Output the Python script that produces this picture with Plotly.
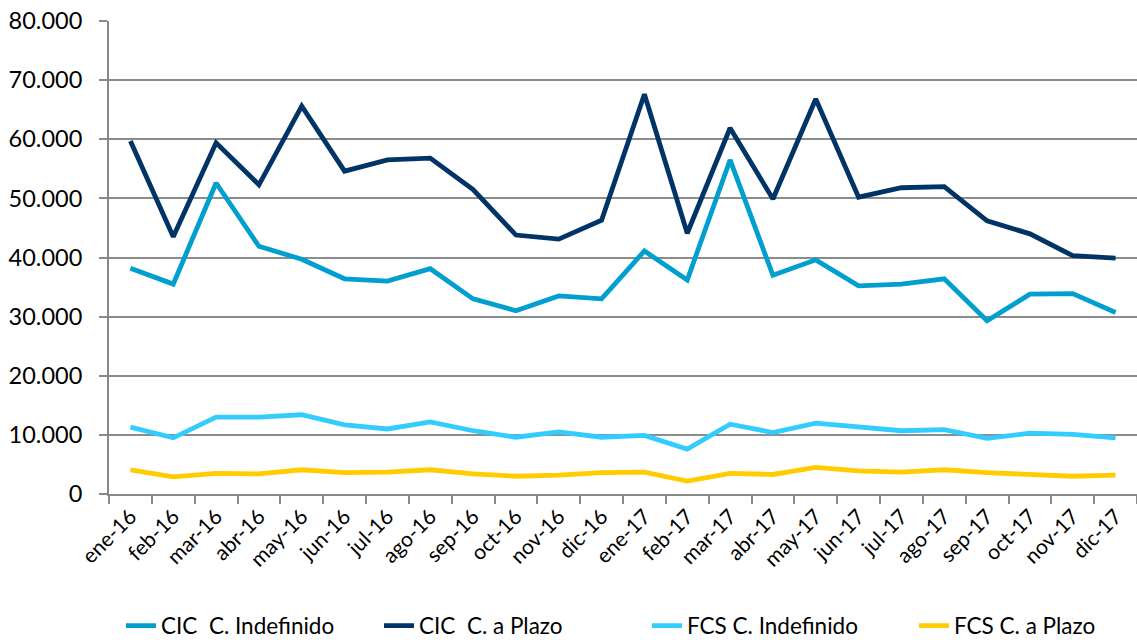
import plotly.graph_objects as go

months = ["ene-16", "feb-16", "mar-16", "abr-16", "may-16", "jun-16", "jul-16", "ago-16",
          "sep-16", "oct-16", "nov-16", "dic-16", "ene-17", "feb-17", "mar-17", "abr-17",
          "may-17", "jun-17", "jul-17", "ago-17", "sep-17", "oct-17", "nov-17", "dic-17"]

cic_indefinido = [38200, 35500, 52600, 41900, 39700, 36400, 36000, 38100, 33000, 31000, 33500, 33000,
                  41100, 36200, 56500, 37000, 39600, 35200, 35500, 36400, 29300, 33800, 33900, 30700]
cic_plazo = [59700, 43500, 59400, 52300, 65600, 54600, 56500, 56800, 51500, 43800, 43100, 46300,
             67600, 44100, 61900, 49900, 66800, 50200, 51800, 52000, 46200, 44000, 40300, 39900]
fcs_indefinido = [11300, 9500, 13000, 13000, 13400, 11700, 11000, 12200, 10700, 9600, 10500, 9600,
                  9900, 7600, 11800, 10400, 12000, 11300, 10700, 10900, 9400, 10300, 10100, 9500]
fcs_plazo = [4100, 2900, 3500, 3400, 4100, 3600, 3700, 4100, 3400, 3000, 3200, 3600,
             3700, 2200, 3500, 3300, 4500, 3900, 3700, 4100, 3600, 3300, 3000, 3200]

series = [
    ("CIC\u00a0 C. Indefinido", cic_indefinido, "#009fcf"),
    ("CIC\u00a0 C. a Plazo", cic_plazo, "#003466"),
    ("FCS C. Indefinido", fcs_indefinido, "#33ccff"),
    ("FCS C. a Plazo", fcs_plazo, "#ffcc00"),
]

# one legend per entry so each can sit where the original puts it
# (pixel position of the entry's left edge, converted to paper coords below)
legend_px = [121, 379, 647, 914]
legend_keys = ["legend", "legend2", "legend3", "legend4"]

fig = go.Figure()
for (name, vals, col), key in zip(series, legend_keys):
    fig.add_trace(go.Scatter(x=months, y=vals, name=name, mode="lines", legend=key,
                             line=dict(color=col, width=4.8)))

font = "Lato, 'Open Sans', sans-serif"
legends = {}
for key, px in zip(legend_keys, legend_px):
    legends[key] = dict(x=(px - 109) / 1028, y=(494 - 626) / 473,
                        xanchor="left", yanchor="middle", font=dict(size=22.5),
                        bgcolor="rgba(0,0,0,0)", borderwidth=0)

fig.update_layout(
    width=1137, height=640,
    margin=dict(l=109, r=0, t=21, b=146, autoexpand=False),
    plot_bgcolor="white", paper_bgcolor="white",
    separators=",.",
    font=dict(family=font, size=21, color="#000"),
    showlegend=True,
    **legends,
)
fig.update_xaxes(
    type="category", range=[-0.5, 23.5], tickson="boundaries",
    ticks="outside", ticklen=8, tickcolor="#888", tickwidth=2,
    showline=True, linecolor="#888", linewidth=2, automargin=False,
    showgrid=False, tickangle=-45, tickfont=dict(size=21),
)
fig.update_yaxes(
    range=[0, 80000], dtick=10000, tickformat=",d",
    ticks="outside", ticklen=8, tickcolor="#888", tickwidth=2,
    showline=True, linecolor="#888", linewidth=2, automargin=False,
    showgrid=True, gridcolor="#8c8c8c", gridwidth=2, ticklabelstandoff=12,
    zeroline=False, tickfont=dict(size=23.5),
)

# the page body has a default 8px margin; drop it so the chart fills the window
fig.write_html("out.html", config={"displayModeBar": False},
               post_script="document.body.style.margin='0';")
